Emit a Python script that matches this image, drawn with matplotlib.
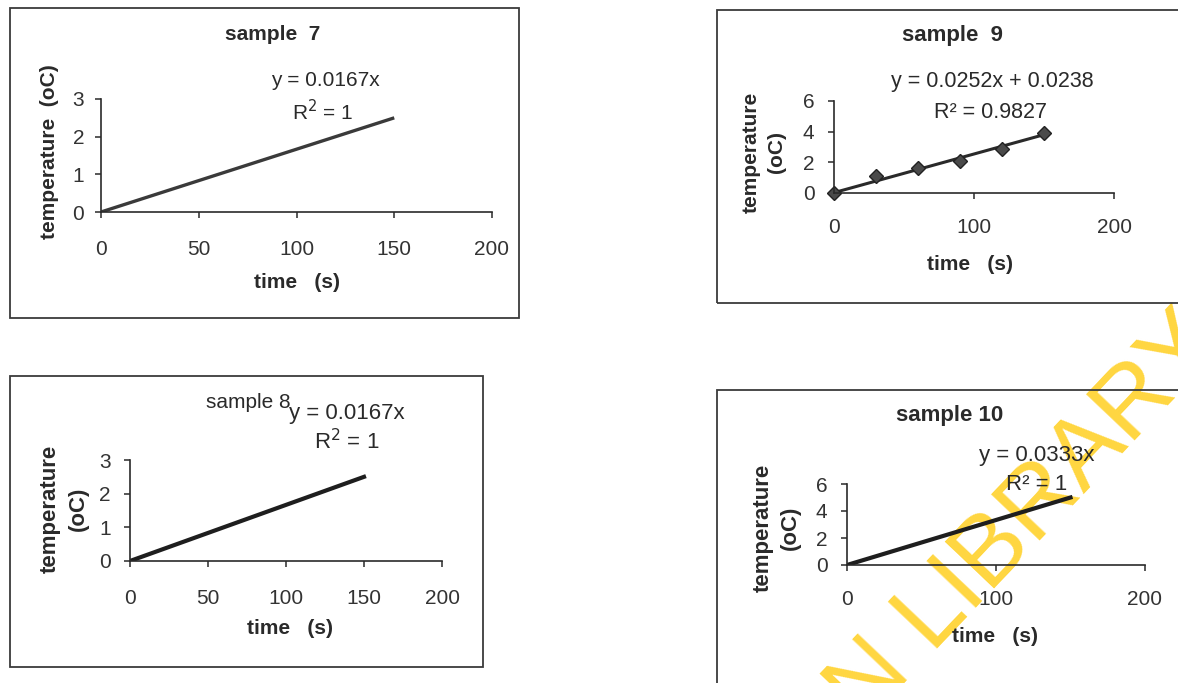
import matplotlib
matplotlib.use("Agg")
import matplotlib.pyplot as plt
from matplotlib.patches import Rectangle
import numpy as np

plt.rcParams['font.family'] = ['Liberation Sans', 'DejaVu Sans']

# ---- data ----
time_s = [0, 30, 60, 90, 120, 150]
temp_s7 = [0.0, 0.5, 1.0, 1.5, 2.0, 2.5]
temp_s8 = [0.0, 0.5, 1.0, 1.5, 2.0, 2.5]
temp_s9 = [0.0, 1.1, 1.6, 2.1, 2.9, 3.9]
temp_s10 = [0.0, 1.0, 2.0, 3.0, 4.0, 5.0]
titles = ["sample  7", "sample 8", "sample  9", "sample 10"]
equations = ["y = 0.0167x", "y = 0.0167x", "y = 0.0252x + 0.0238", "y = 0.0333x"]
r2_labels = ["R$^2$ = 1", "R$^2$ = 1", "R\u00b2 = 0.9827", "R\u00b2 = 1"]
fit9_slope, fit9_icpt = 0.0252, 0.0238

W, H = 1178, 683
fig = plt.figure(figsize=(W / 100, H / 100), dpi=100)
fig.patch.set_facecolor("white")

def fx(px):
    return px / W

def fy(py):
    return 1 - py / H

INK = "#2a2a2a"

def box(x0, y0, x1, y1):
    fig.patches.append(Rectangle((fx(x0), fy(y1)), fx(x1) - fx(x0), fy(y0) - fy(y1),
                                 transform=fig.transFigure, fill=False,
                                 edgecolor="#3a3a3a", lw=1.3, zorder=1))

def make_axes(x0, x1, ybot, ytop, ymax, yticks, xticks, xpad, ypad):
    ax = fig.add_axes([fx(x0), fy(ybot), fx(x1) - fx(x0), fy(ytop) - fy(ybot)])
    ax.patch.set_alpha(0)
    ax.set_xlim(0, 200)
    ax.set_ylim(0, ymax)
    ax.set_xticks(xticks)
    ax.set_yticks(yticks)
    for s in ["top", "right"]:
        ax.spines[s].set_visible(False)
    for s in ["left", "bottom"]:
        ax.spines[s].set_color(INK)
        ax.spines[s].set_linewidth(1.2)
    ax.tick_params(axis="both", direction="out", length=4, width=1.1, color=INK,
                   labelsize=15, labelcolor="#333333")
    ax.tick_params(axis="x", pad=xpad)
    ax.tick_params(axis="y", pad=ypad)
    return ax

def txt(x, y, s, size=15, weight="normal", **kw):
    fig.text(fx(x), fy(y), s, ha="center", va="center", fontsize=size,
             fontweight=weight, color=INK, **kw)

# ---- boxes ----
box(10, 8, 519, 318)
box(717, 10, 1185, 303)
box(10, 376, 483, 667)
box(717, 390, 1185, 700)

# ---- sample 7 ----
ax7 = make_axes(101, 492, 212, 99, 3, [0, 1, 2, 3], [0, 50, 100, 150, 200], 16, 8)
ax7.plot(time_s, temp_s7, color="#3a3a3a", lw=2.4, solid_capstyle="butt")
txt(273, 35, titles[0], weight="bold")
txt(325, 80, equations[0])
txt(323, 112, r2_labels[0])
txt(50, 152, "temperature  (oC)", weight="bold", rotation=90)
txt(297, 283, "time   (s)", weight="bold")

# ---- sample 9 ----
ax9 = make_axes(834, 1114, 193, 101, 6, [0, 2, 4, 6], [0, 100, 200], 14, 10)
fit_x = np.array([time_s[0], time_s[-1]])
ax9.plot(fit_x, fit9_slope * fit_x + fit9_icpt, color="#2a2a2a", lw=2.2)
ax9.plot(time_s, temp_s9, linestyle="none", marker="D", markersize=7.5,
         color="#4a4a4a", markeredgecolor="#222222", clip_on=False)
txt(952, 36, titles[2], weight="bold", size=16)
txt(992, 82, equations[2], size=15.5)
txt(990, 113, r2_labels[2], size=15.5)
txt(764, 152, "temperature\n(oC)", weight="bold", rotation=90, linespacing=1.37)
txt(970, 265, "time   (s)", weight="bold")

# ---- sample 8 ----
ax8 = make_axes(130, 442, 561, 460, 3, [0, 1, 2, 3], [0, 50, 100, 150, 200], 16, 10)
ax8.plot(time_s, temp_s8, color="#1e1e1e", lw=3.0)
txt(248, 402, titles[1], weight="normal", size=15)
txt(347, 413, equations[1], size=16)
txt(347, 442, r2_labels[1], size=16)
txt(64, 509, "temperature\n(oC)", weight="bold", rotation=90, linespacing=1.45, size=16)
txt(290, 628, "time   (s)", weight="bold")

# ---- sample 10 ----
ax10 = make_axes(847, 1145, 565, 484, 6, [0, 2, 4, 6], [0, 100, 200], 14, 10)
ax10.plot(time_s, temp_s10, color="#1e1e1e", lw=3.0)
txt(950, 415, titles[3], weight="bold", size=16)
txt(1037, 455, equations[3], size=16)
txt(1037, 484, r2_labels[3], size=16)
txt(777, 528, "temperature\n(oC)", weight="bold", rotation=90, linespacing=1.38, size=16)
txt(995, 637, "time   (s)", weight="bold")

for ax in (ax7, ax8, ax9, ax10):
    ax.set_zorder(2)

# ---- watermark ----
fig.text(fx(864), fy(726), "N LIBRARY", ha="left", va="baseline", rotation=46.5,
         rotation_mode="anchor", fontsize=71.5, color="#FFD640", zorder=0)

fig.savefig("out.png", dpi=100)
